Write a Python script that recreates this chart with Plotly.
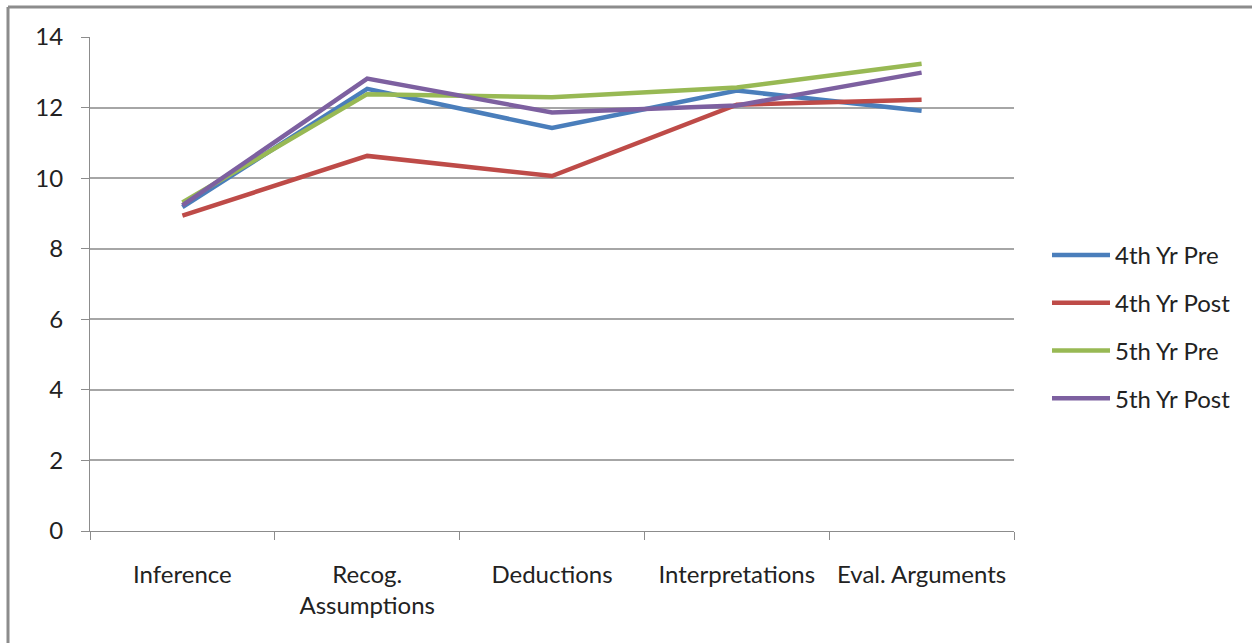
import plotly.graph_objects as go

categories = ["Inference", "Recog.<br>Assumptions", "Deductions", "Interpretations", "Eval. Arguments"]
series_names = ["4th Yr Pre", "4th Yr Post", "5th Yr Pre", "5th Yr Post"]
yr4_pre = [9.18, 12.53, 11.42, 12.48, 11.91]
yr4_post = [8.94, 10.63, 10.06, 12.08, 12.22]
yr5_pre = [9.31, 12.38, 12.29, 12.57, 13.24]
yr5_post = [9.23, 12.82, 11.86, 12.06, 12.99]
colors = ["#4a7ebb", "#be4b48", "#98b954", "#7d60a0"]
y_ticks = [0, 2, 4, 6, 8, 10, 12, 14]

FONT = "Lato"
FS = 24
fig = go.Figure()
for i, (name, vals) in enumerate(zip(series_names, [yr4_pre, yr4_post, yr5_pre, yr5_post])):
    fig.add_trace(go.Scatter(
        x=categories, y=vals, mode="lines", name=name,
        line=dict(color=colors[i], width=4.5),
        legendgroup=name,
    ))

W, H = 1252, 643
L, R, T, B = 90, 238, 37, 112
pw, ph = W - L - R, H - T - B

def px_x(p):
    return (p - L) / pw

def px_y(p):
    return (H - B - p) / ph

fig.update_layout(
    width=W, height=H,
    margin=dict(l=L, r=R, t=T, b=B),
    paper_bgcolor="white", plot_bgcolor="white",
    font=dict(family=FONT, size=FS, color="#222222"),
    showlegend=True,
    legend=dict(
        x=px_x(1047), y=px_y(233), xanchor="left", yanchor="top",
        font=dict(family=FONT, size=FS, color="#222222"),
        tracegroupgap=13.5, itemwidth=58,
        bgcolor="rgba(0,0,0,0)",
    ),
    xaxis=dict(
        type="category", range=[-0.5, 4.5], tickson="boundaries", ticks="outside", ticklen=8,
        tickcolor="#8c8c8c", showline=True, linecolor="#8c8c8c", linewidth=1,
        showgrid=False, ticklabelstandoff=22,
        tickfont=dict(family=FONT, size=FS, color="#222222"),
    ),
    yaxis=dict(
        range=[0, 14], tickvals=y_ticks, ticks="outside", ticklen=8,
        tickcolor="#8c8c8c", showline=True, linecolor="#8c8c8c", linewidth=1,
        showgrid=True, gridcolor="#a6a6a6", gridwidth=1.5, zeroline=False,
        ticklabelstandoff=13,
        tickfont=dict(family=FONT, size=FS, color="#222222"),
    ),
    shapes=[
        dict(type="line", xref="paper", yref="paper",
             x0=px_x(8), x1=px_x(8), y0=px_y(7), y1=px_y(650),
             line=dict(color="#8c8c8c", width=3)),
        dict(type="line", xref="paper", yref="paper",
             x0=px_x(8), x1=px_x(1260), y0=px_y(7), y1=px_y(7),
             line=dict(color="#8c8c8c", width=3)),
    ],
)

fig.write_html("out.html")
